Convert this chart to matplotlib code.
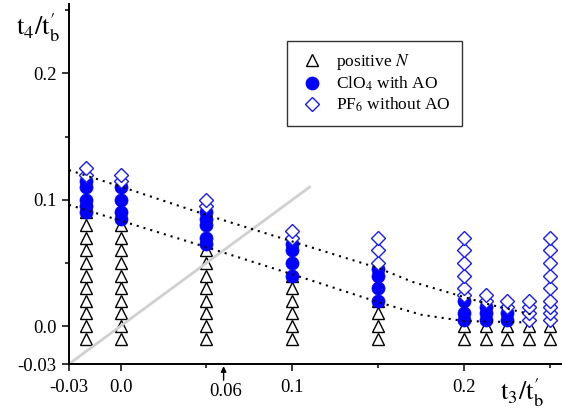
import matplotlib
matplotlib.use("Agg")
import matplotlib.pyplot as plt

plt.rcParams['font.family'] = ['Liberation Serif', 'DejaVu Serif']
plt.rcParams['mathtext.fontset'] = 'stix'
plt.rcParams['axes.unicode_minus'] = False

# t3 positions of the measured columns
t3_cols = [-0.02, 0.0, 0.05, 0.1, 0.15, 0.2, 0.2125, 0.225, 0.2375, 0.25]

# t4 values per column, one list for each t3 above
pos_n = [
    [-0.01, 0.0, 0.01, 0.02, 0.03, 0.04, 0.05, 0.06, 0.07, 0.08, 0.09],
    [-0.01, 0.0, 0.01, 0.02, 0.03, 0.04, 0.05, 0.06, 0.07, 0.08],
    [-0.01, 0.0, 0.01, 0.02, 0.03, 0.04, 0.05, 0.06],
    [-0.01, 0.0, 0.01, 0.02, 0.03, 0.04],
    [-0.01, 0.0, 0.01, 0.02],
    [-0.01, 0.0],
    [-0.01, 0.0],
    [-0.01, 0.0],
    [-0.01, 0.0],
    [-0.01, 0.0],
]
clo4_ao = [
    [0.09, 0.095, 0.1, 0.11, 0.115],
    [0.085, 0.09, 0.1, 0.11],
    [0.065, 0.07, 0.08, 0.085, 0.09],
    [0.04, 0.05, 0.06, 0.065],
    [0.02, 0.03, 0.04, 0.045],
    [0.005, 0.01, 0.02],
    [0.005, 0.01, 0.015],
    [0.005, 0.01],
    [],
    [],
]
pf6_no_ao = [
    [0.12, 0.125],
    [0.115, 0.12],
    [0.095, 0.1],
    [0.07, 0.075],
    [0.05, 0.06, 0.07],
    [0.025, 0.03, 0.04, 0.05, 0.06, 0.07],
    [0.02, 0.025],
    [0.015, 0.02],
    [0.005, 0.01, 0.015, 0.02],
    [0.005, 0.01, 0.015, 0.02, 0.03, 0.04, 0.05, 0.06, 0.07],
]

# boundary curves
upper_t3 = [-0.03, 0.0, 0.05, 0.1, 0.15, 0.17, 0.2, 0.215, 0.24]
upper_t4 = [0.1235, 0.1105, 0.088, 0.067, 0.046, 0.035, 0.023, 0.017, 0.009]
lower_t3 = [-0.03, 0.0, 0.05, 0.1, 0.15, 0.175, 0.2, 0.235]
lower_t4 = [0.096, 0.0835, 0.0625, 0.041, 0.019, 0.009, 0.004, 0.003]

# t3 = t4 reference line
diag = [-0.03, 0.11]

xticks = [-0.03, 0.0, 0.1, 0.2]
xticklabels = ['-0.03', '0.0', '0.1', '0.2']
yticks = [-0.03, 0.0, 0.1, 0.2]
yticklabels = ['-0.03', '0.0', '0.1', '0.2']
minor_ticks = [0.05, 0.15, 0.25]


def flatten(cols):
    xs, ys = [], []
    for x, vals in zip(t3_cols, cols):
        xs += [x] * len(vals)
        ys += vals
    return xs, ys


fig = plt.figure(figsize=(5.62, 4.11), dpi=100)
ax = fig.add_axes([69 / 562, 47 / 411, 493 / 562, 360 / 411])

tx, ty = flatten(pos_n)
cx, cy = flatten(clo4_ao)
dx, dy = flatten(pf6_no_ao)

ax.plot(tx, ty, linestyle='none', marker='^', ms=9.2, mfc='white', mec='black',
        mew=1.0, zorder=2, label='positive $N$')
ax.plot(diag, diag, color='#d0d0d0', lw=2.0, zorder=2.5)
ax.plot(cx, cy, linestyle='none', marker='o', ms=9.4, mfc='#0000ff', mec='#0000ff',
        mew=0.5, zorder=3, label='ClO$_4$ with AO')
ax.plot(dx, dy, linestyle='none', marker='D', ms=6.8, mfc='white', mec='#1a1aff',
        mew=1.0, zorder=4, label='PF$_6$ without AO')
ax.plot(upper_t3, upper_t4, color='black', lw=1.5, linestyle=(0, (1, 2.4)), zorder=5)
ax.plot(lower_t3, lower_t4, color='black', lw=1.5, linestyle=(0, (1, 2.4)), zorder=5)

ax.set_xlim(-0.03, 0.257)
ax.set_ylim(-0.03, 0.255)
ax.spines['top'].set_visible(False)
ax.spines['right'].set_visible(False)
for s in ('left', 'bottom'):
    ax.spines[s].set_linewidth(1.4)

ax.set_xticks(xticks)
ax.set_xticklabels(xticklabels)
ax.set_yticks(yticks)
ax.set_yticklabels(yticklabels)
ax.set_xticks(minor_ticks, minor=True)
ax.set_yticks(minor_ticks, minor=True)
ax.tick_params(which='major', direction='out', length=5, width=1.1, labelsize=13.5)
ax.tick_params(which='minor', direction='out', length=3, width=1.1)
ax.tick_params(axis='x', which='major', pad=6)
ax.tick_params(axis='y', which='major', pad=4)

# marker for t3 = 0.06 below the axis
ax.annotate('', xy=(0.06, -0.006), xycoords=('data', 'axes fraction'),
            xytext=(0.06, -0.045), textcoords=('data', 'axes fraction'),
            arrowprops=dict(arrowstyle='-|>', color='black', lw=1.0,
                            mutation_scale=8, shrinkA=0, shrinkB=0),
            annotation_clip=False)
ax.text(0.061, -0.075, '0.06', transform=ax.get_xaxis_transform(),
        ha='center', va='center', fontsize=13.5, clip_on=False)

fig.text(0.068, 0.934, r"$\mathrm{t_4/t^{\prime}_b}$", fontsize=19,
         ha='center', va='center')
fig.text(0.929, 0.046, r"$\mathrm{t_3/t^{\prime}_b}$", fontsize=19,
         ha='center', va='center')

leg = ax.legend(loc='upper left', bbox_to_anchor=(287 / 562, 1 - 41 / 411),
                bbox_transform=fig.transFigure, borderaxespad=0, fontsize=12.5,
                frameon=True, fancybox=False, edgecolor='black',
                handlelength=1.6, handletextpad=0.6, labelspacing=0.15,
                borderpad=0.65, numpoints=1)
leg.get_frame().set_linewidth(1.0)

fig.savefig('out.png', dpi=100)
